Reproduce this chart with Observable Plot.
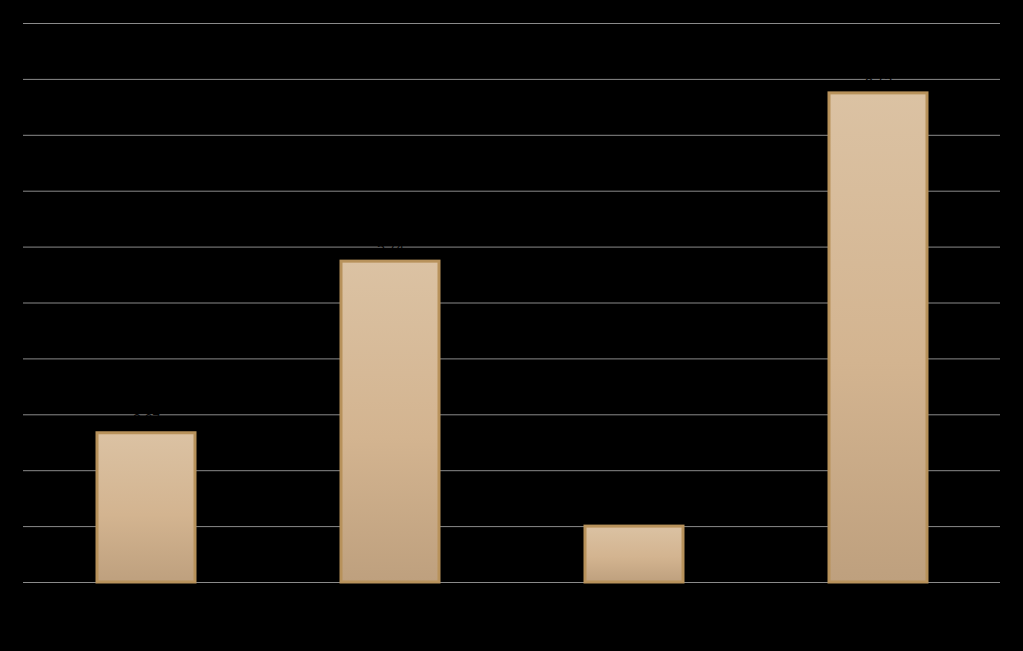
<!DOCTYPE html>
<html>
<head>
<meta charset="utf-8">
<script src="https://cdn.jsdelivr.net/npm/d3@7"></script>
<script src="https://cdn.jsdelivr.net/npm/@observablehq/plot@0.6"></script>
<style>
  html, body { margin: 0; padding: 0; background: #000; }
  #chart svg { display: block; }
</style>
</head>
<body>
<div id="chart"></div>
<script>
const categories = ["A", "B", "C", "D"];
const values = [2.67, 5.74, 1.0, 8.75];
const labels = ["2,67", "5,74", "1,00", "8,75"];
const yTicks = [0, 1, 2, 3, 4, 5, 6, 7, 8, 9, 10];

const data = categories.map((c, i) => ({category: c, value: values[i], label: labels[i]}));

const defs = () => {
  const d = d3.create("svg:defs");
  const g = d.append("linearGradient")
    .attr("id", "barGrad")
    .attr("x1", 0).attr("y1", 0).attr("x2", 0).attr("y2", 1);
  g.append("stop").attr("offset", "0%").attr("stop-color", "#dbc2a3");
  g.append("stop").attr("offset", "55%").attr("stop-color", "#d3b490");
  g.append("stop").attr("offset", "100%").attr("stop-color", "#bea07e");
  return d.node();
};

const chart = Plot.plot({
  width: 1023,
  height: 651,
  marginLeft: 23,
  marginRight: 23,
  marginTop: 23,
  marginBottom: 69,
  style: {background: "#000", fontFamily: "Liberation Sans, Arial, sans-serif"},
  x: {domain: categories, paddingInner: 0.6, paddingOuter: 0.3, axis: null},
  y: {domain: [0, 10], axis: null},
  marks: [
    defs,
    Plot.ruleY(yTicks, {stroke: "#8a8a8a", strokeWidth: 1}),
    Plot.barY(data, {
      x: "category",
      y: "value",
      fill: "url(#barGrad)",
      stroke: "#b8925b",
      strokeWidth: 3
    }),
    Plot.text(data, {
      x: "category",
      y: "value",
      text: "label",
      dy: -14,
      fill: "#000",
      fontSize: 14
    })
  ]
});

document.getElementById("chart").appendChild(chart);
</script>
</body>
</html>
